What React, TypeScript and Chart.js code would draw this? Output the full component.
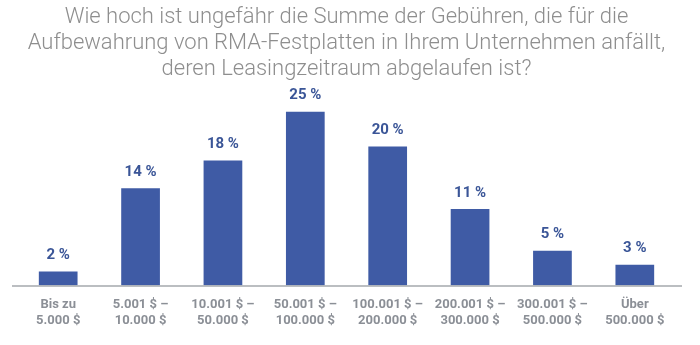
import React, { useEffect, useRef } from "react";
import { Chart, registerables } from "chart.js";

Chart.register(...registerables);

const titleLines = [
  "Wie hoch ist ungefähr die Summe der Gebühren, die für die",
  "Aufbewahrung von RMA-Festplatten in Ihrem Unternehmen anfällt,",
  "deren Leasingzeitraum abgelaufen ist?",
];

const categories: string[][] = [
  ["Bis zu", "5.000 $"],
  ["5.001 $ –", "10.000 $"],
  ["10.001 $ –", "50.000 $"],
  ["50.001 $ –", "100.000 $"],
  ["100.001 $ –", "200.000 $"],
  ["200.001 $ –", "300.000 $"],
  ["300.001 $ –", "500.000 $"],
  ["Über", "500.000 $"],
];

const values = [2, 14, 18, 25, 20, 11, 5, 3];

const BAR_COLOR = "#3f5ba5";
const LABEL_COLOR = "#3a5597";
const TICK_COLOR = "#8b8f96";
const TITLE_COLOR = "#8e8e8e";
const AXIS_COLOR = "#a5a8ad";

const valueLabelPlugin = {
  id: "valueLabels",
  afterDatasetsDraw(chart: any) {
    const ctx = chart.ctx;
    const meta = chart.getDatasetMeta(0);
    ctx.save();
    ctx.fillStyle = LABEL_COLOR;
    ctx.font = "bold 15px Roboto";
    ctx.textAlign = "center";
    ctx.textBaseline = "middle";
    meta.data.forEach((bar: any, i: number) => {
      ctx.fillText(values[i] + " %", bar.x, bar.y - 16);
    });
    ctx.restore();
  },
};

const axisLinePlugin = {
  id: "axisLine",
  afterDatasetsDraw(chart: any) {
    const { ctx, chartArea } = chart;
    ctx.save();
    ctx.strokeStyle = AXIS_COLOR;
    ctx.lineWidth = 1.5;
    ctx.beginPath();
    ctx.moveTo(chartArea.left - 5, chartArea.bottom + 0.5);
    ctx.lineTo(chartArea.right + 6, chartArea.bottom + 0.5);
    ctx.stroke();
    ctx.restore();
  },
};

export default function App() {
  const ref = useRef<HTMLCanvasElement>(null);
  useEffect(() => {
    if (!ref.current) return;
    const chart = new Chart(ref.current, {
      type: "bar",
      data: {
        labels: categories,
        datasets: [
          {
            data: values,
            backgroundColor: BAR_COLOR,
            barPercentage: 0.94,
            categoryPercentage: 0.5,
          },
        ],
      },
      options: {
        animation: false,
        responsive: false,
        maintainAspectRatio: false,
        layout: { padding: { left: 17, right: 24, top: 0, bottom: 5 } },
        plugins: {
          legend: { display: false },
          tooltip: { enabled: false },
          title: {
            display: true,
            text: titleLines,
            color: TITLE_COLOR,
            font: { family: "Roboto", size: 22, weight: "300", lineHeight: 1.18 },
            padding: { top: 5, bottom: 8 },
          },
        },
        scales: {
          x: {
            grid: { display: false, drawTicks: false },
            border: { display: false },
            ticks: {
              color: TICK_COLOR,
              font: { family: "Roboto", size: 13, weight: "bold", lineHeight: 1.25 },
              padding: 11,
              maxRotation: 0,
              autoSkip: false,
            },
          },
          y: {
            display: false,
            min: 0,
            max: 28,
          },
        },
      },
      plugins: [valueLabelPlugin, axisLinePlugin],
    });
    return () => chart.destroy();
  }, []);
  return (
    <div style={{ position: "absolute", left: 0, top: 0, width: 700, height: 345, background: "#fff" }}>
      <canvas ref={ref} width={700} height={345} style={{ width: 700, height: 345 }} />
    </div>
  );
}
